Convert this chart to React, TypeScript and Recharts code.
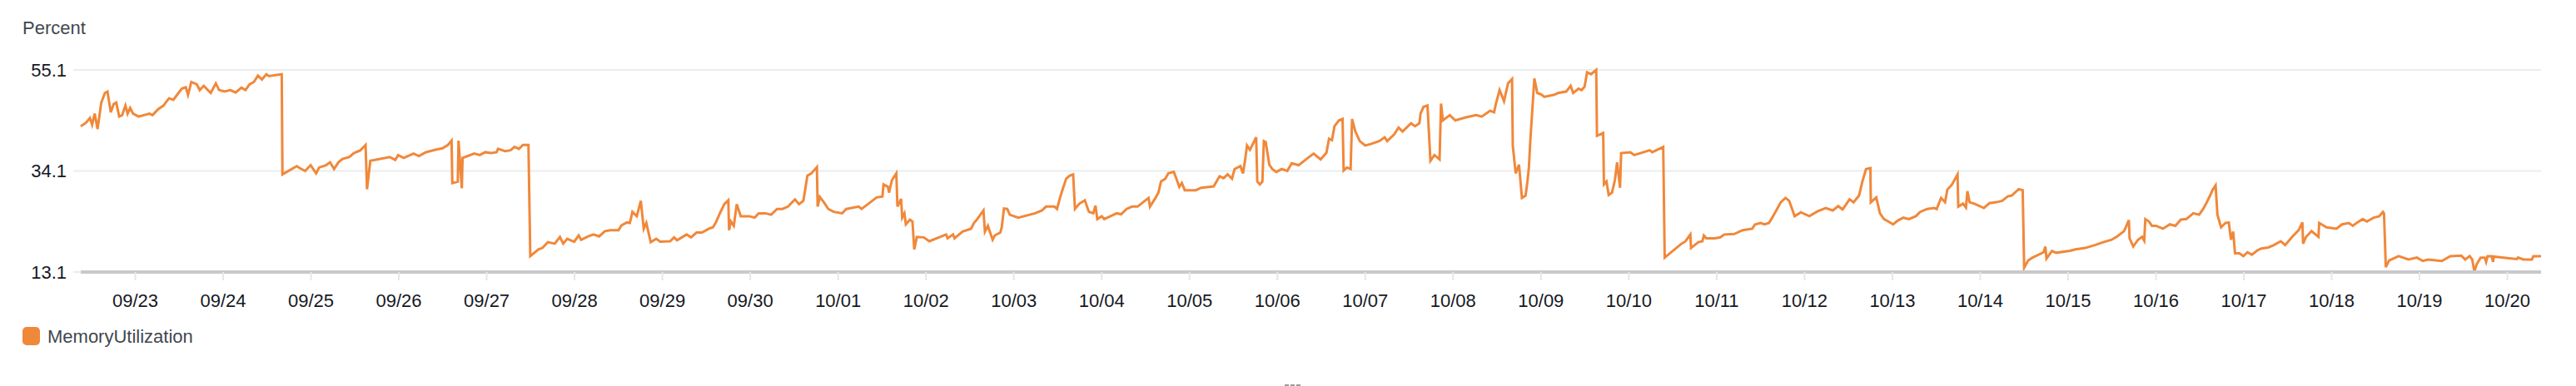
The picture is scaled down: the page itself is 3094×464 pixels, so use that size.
import { LineChart, Line, XAxis, YAxis, CartesianGrid } from 'recharts';

// hours since 09/22 00:00, MemoryUtilization in percent
const sep22to27: [number, number][] = [
  [9.1, 43.4], [10.5, 44.1], [11.6, 45.1], [12.2, 43.7], [12.9, 46.0], [13.7, 42.8], [14.7, 48.3], [15.7, 50.3],
  [16.4, 50.6], [17.3, 46.3], [18.1, 48.0], [18.8, 48.3], [19.6, 45.4], [20.4, 45.7], [21.3, 47.7], [21.9, 46.0],
  [22.6, 47.2], [23.4, 46.0], [24.9, 45.4], [27.9, 46.0], [28.7, 45.7], [30.2, 46.9], [31.7, 47.7], [33.2, 49.2],
  [34.4, 48.9], [35.5, 50.0], [36.7, 51.2], [37.8, 51.5], [38.4, 49.9], [39.3, 52.6], [40.8, 52.1], [41.6, 50.9],
  [42.7, 51.8], [44.6, 50.3], [46.0, 52.3], [46.9, 50.9], [48.4, 50.6], [50.0, 50.9], [51.4, 50.4], [53.0, 51.4],
  [54.1, 50.9], [55.2, 52.1], [56.4, 52.6], [57.5, 53.9], [58.6, 53.1], [59.8, 54.2], [60.5, 53.8], [64.0, 54.2],
  [64.2, 33.4], [68.1, 35.1], [68.9, 34.7], [70.4, 34.1], [71.9, 35.3], [73.4, 33.6], [74.2, 34.8], [76.1, 35.3],
  [77.2, 35.9], [78.3, 34.5], [79.5, 35.9], [80.6, 36.6], [82.5, 37.0], [83.7, 37.8], [85.5, 38.4], [86.9, 39.5],
  [87.3, 30.3], [88.2, 36.2], [93.5, 37.0], [95.0, 36.4], [95.8, 37.4], [97.3, 36.8], [100.0, 37.7], [101.5, 37.2],
  [103.4, 38.0], [106.0, 38.5], [107.9, 38.8], [109.4, 39.5], [110.4, 40.4], [110.6, 31.6], [112.1, 31.9], [112.3, 40.4],
  [113.2, 30.5], [113.4, 36.8], [116.6, 37.7], [118.1, 37.4], [119.6, 38.0], [121.2, 37.8],
];

const sep27to01: [number, number][] = [
  [122.7, 38.0], [123.1, 38.7], [125.0, 38.2], [126.5, 38.4], [127.6, 39.1], [128.8, 38.7], [129.9, 39.5], [131.4, 39.5],
  [131.9, 16.4], [134.1, 17.8], [135.2, 18.1], [136.7, 19.3], [138.6, 19.0], [140.0, 20.4], [140.9, 19.0], [142.0, 20.0],
  [143.9, 19.4], [145.1, 20.7], [145.8, 19.8], [147.7, 20.5], [149.2, 20.9], [150.7, 20.5], [152.3, 21.6], [153.8, 21.8],
  [156.0, 21.8], [156.8, 22.8], [158.3, 23.4], [159.1, 23.3], [159.8, 25.6], [161.0, 24.7], [162.1, 27.9], [162.9, 22.1],
  [163.6, 23.3], [164.8, 19.3], [166.3, 20.0], [167.4, 19.4], [170.1, 19.5], [171.2, 20.3], [172.0, 19.7], [174.6, 20.9],
  [175.8, 20.3], [177.3, 21.3], [178.8, 21.3], [180.7, 22.1], [181.8, 22.4], [182.6, 23.4], [183.7, 25.3], [184.9, 27.2],
  [186.0, 28.0], [186.2, 21.8], [186.7, 23.6], [187.5, 22.7], [188.3, 27.2], [189.4, 24.7], [191.7, 24.7], [193.2, 24.4],
  [194.3, 25.3], [196.2, 25.3], [197.7, 25.0], [199.3, 26.2], [200.8, 26.2], [202.3, 26.7], [204.2, 28.2], [205.3, 27.2],
  [206.5, 27.9], [207.6, 33.1], [208.7, 33.6], [210.2, 34.9], [210.4, 26.7], [211.0, 28.7], [212.1, 27.6], [213.3, 26.2],
  [214.8, 25.6], [217.1, 25.3], [218.2, 26.2], [221.6, 26.7], [222.4, 26.2], [224.3, 27.3], [226.5, 28.6], [228.1, 28.8],
  [228.4, 31.3], [229.6, 30.8], [229.9, 29.6], [230.7, 32.2],
];

const oct01to05: [number, number][] = [
  [231.9, 33.6], [232.2, 26.7], [233.2, 28.3], [233.5, 24.4], [234.1, 25.3], [234.5, 23.0], [235.6, 24.0], [236.3, 23.6],
  [236.8, 17.8], [237.5, 20.4], [239.4, 20.3], [240.9, 19.5], [245.5, 20.9], [245.9, 20.1], [247.4, 20.9], [247.8, 20.1],
  [250.0, 21.5], [252.3, 22.1], [253.1, 23.3], [253.8, 23.9], [255.7, 25.9], [256.1, 21.5], [256.9, 22.7], [258.2, 19.8],
  [258.8, 20.7], [260.3, 21.3], [260.7, 22.4], [261.3, 26.3], [262.2, 26.2], [262.9, 25.0], [265.2, 24.4], [269.8, 25.3],
  [271.7, 25.9], [272.8, 26.7], [275.1, 26.7], [275.8, 26.2], [276.6, 28.5], [277.3, 30.2], [278.3, 32.5], [279.2, 33.1],
  [280.2, 33.4], [280.7, 26.2], [281.9, 27.3], [283.4, 28.0], [284.5, 25.6], [285.7, 25.3], [286.3, 26.9], [286.8, 24.1],
  [288.0, 24.7], [288.7, 24.1], [292.1, 25.3], [293.3, 25.1], [294.8, 26.2], [296.3, 26.7], [297.8, 26.7], [299.3, 27.6],
  [300.8, 28.5], [301.2, 26.7], [302.7, 28.5], [303.5, 29.6], [304.2, 31.9], [305.4, 32.5], [306.2, 33.6], [307.7, 33.9],
  [308.4, 32.5], [309.2, 30.8], [309.9, 31.6], [310.7, 30.1], [313.7, 30.1], [315.2, 30.6], [318.6, 30.9], [320.2, 33.0],
  [321.3, 32.6], [322.4, 33.4], [323.6, 32.5], [324.3, 34.5], [325.9, 35.1], [326.6, 33.6], [327.2, 36.5], [327.7, 39.4],
  [328.5, 38.5], [330.2, 41.1], [330.5, 31.9], [331.2, 31.3], [331.9, 31.9], [332.3, 40.3], [332.8, 40.1], [333.8, 35.4],
  [334.6, 34.5], [335.7, 33.9], [337.2, 34.5], [338.7, 34.1], [339.9, 35.7], [341.8, 35.3], [343.8, 36.5],
];

const oct05to10: [number, number][] = [
  [345.9, 37.7], [347.8, 36.5], [349.4, 37.9], [350.1, 40.8], [350.9, 40.5], [351.6, 43.4], [352.8, 44.6], [353.8, 44.9],
  [354.1, 34.2], [355.0, 34.8], [356.0, 34.5], [356.4, 44.9], [357.3, 42.3], [358.5, 40.3], [360.0, 39.4], [361.5, 39.7],
  [363.8, 40.3], [365.3, 41.1], [366.0, 40.3], [367.9, 41.7], [369.1, 43.1], [370.2, 42.3], [372.5, 44.0], [373.6, 43.4],
  [374.8, 44.0], [375.1, 46.0], [375.9, 47.4], [377.0, 47.7], [377.8, 36.2], [378.9, 37.4], [380.3, 36.5], [380.7, 48.1],
  [381.2, 44.6], [383.1, 45.7], [384.6, 44.6], [387.3, 45.2], [390.3, 45.7], [391.8, 45.4], [394.1, 46.6], [395.2, 46.3],
  [395.7, 48.1], [396.7, 50.9], [397.9, 48.6], [399.0, 52.3], [400.1, 53.2], [400.3, 39.4], [401.1, 33.6], [402.0, 35.4],
  [402.8, 28.5], [403.8, 29.0], [404.3, 31.9], [404.7, 34.8], [405.1, 40.5], [406.2, 53.3], [407.0, 50.3], [408.1, 50.0],
  [408.9, 49.5], [411.5, 49.9], [412.7, 50.3], [414.9, 50.6], [416.1, 51.8], [416.8, 50.3], [418.3, 51.2], [419.1, 50.9],
  [419.9, 51.6], [420.6, 54.6], [421.7, 54.2], [423.1, 55.1], [423.3, 41.4], [425.0, 42.0], [425.2, 31.3], [425.9, 31.9],
  [426.5, 29.1], [427.4, 29.6], [428.2, 32.2], [428.8, 35.9], [429.6, 30.6], [429.9, 37.8], [432.4, 38.0], [433.5, 37.4],
  [437.7, 38.4], [438.4, 38.0], [441.4, 39.1], [441.8, 16.1], [446.4, 19.0], [447.5, 19.5], [448.8, 20.9], [449.0, 18.1],
  [451.0, 19.3], [452.1, 19.5], [452.5, 20.7], [453.2, 20.1], [455.5, 20.1],
];

const oct10to15: [number, number][] = [
  [457.0, 20.3], [458.1, 20.9], [460.8, 21.0], [463.1, 21.8], [465.7, 22.1], [466.5, 23.0], [468.0, 23.3], [469.1, 23.0],
  [470.3, 23.3], [471.4, 24.7], [472.5, 26.2], [473.5, 27.6], [474.8, 28.5], [475.8, 27.9], [477.3, 24.7], [479.0, 25.5],
  [481.3, 24.7], [483.5, 25.7], [485.8, 26.4], [487.7, 25.9], [489.2, 26.8], [490.4, 26.1], [492.3, 28.2], [493.4, 27.6],
  [494.9, 29.0], [495.8, 31.9], [496.8, 34.5], [498.0, 34.7], [498.1, 27.6], [499.6, 28.6], [500.6, 25.3], [501.7, 24.1],
  [502.9, 23.6], [504.2, 23.0], [505.5, 23.8], [507.0, 24.4], [508.5, 24.1], [510.4, 24.7], [511.6, 25.6], [513.5, 26.2],
  [515.4, 26.4], [516.1, 26.2], [517.3, 28.5], [518.4, 27.6], [519.0, 30.2], [520.3, 31.3], [521.8, 33.4], [522.0, 26.7],
  [523.3, 27.3], [524.1, 26.5], [524.5, 29.9], [525.1, 27.6], [526.4, 27.3], [529.0, 26.4], [530.5, 27.4], [532.4, 27.6],
  [534.0, 27.9], [535.5, 28.8], [536.6, 29.0], [538.5, 30.3], [539.6, 30.1], [540.0, 14.0], [541.1, 15.5], [542.3, 16.1],
  [545.3, 17.2], [545.8, 18.4], [546.1, 15.9], [547.6, 17.5], [548.7, 17.1], [552.5, 17.5], [554.0, 17.8], [556.7, 18.1],
  [559.3, 18.7], [561.6, 19.3], [563.9, 19.8], [565.4, 20.5],
];

const oct15to20: [number, number][] = [
  [567.3, 21.6], [568.6, 23.9], [568.8, 20.1], [569.8, 18.4], [571.1, 19.8], [572.2, 20.4], [572.8, 19.6], [573.1, 24.1],
  [574.1, 23.6], [574.9, 22.7], [576.0, 22.7], [577.9, 22.1], [579.8, 23.0], [581.3, 22.7], [582.8, 24.0], [584.3, 24.1],
  [586.2, 25.3], [587.8, 25.0], [588.9, 26.2], [589.7, 27.3], [590.8, 29.0], [591.5, 30.2], [592.3, 31.1], [592.8, 25.0],
  [593.8, 22.4], [595.0, 23.3], [595.9, 23.4], [596.5, 19.8], [597.1, 21.5], [597.6, 17.0], [598.8, 17.0], [599.9, 16.4],
  [601.0, 17.2], [602.2, 16.7], [603.7, 17.6], [604.8, 18.0], [606.7, 18.2], [608.2, 18.7], [610.1, 19.5], [611.3, 18.7],
  [613.2, 20.4], [615.0, 21.8], [616.0, 23.4], [616.2, 19.0], [617.0, 20.4], [618.5, 21.6], [620.4, 20.4], [620.6, 23.3],
  [622.6, 22.4], [625.3, 22.1], [626.8, 23.0], [628.7, 23.3], [629.8, 22.7], [631.0, 23.4], [632.5, 24.1], [633.6, 23.6],
  [635.5, 24.4], [637.0, 24.7], [638.0, 25.6], [638.3, 25.3], [638.8, 14.1], [639.7, 15.5], [642.3, 16.4], [645.0, 15.7],
  [647.3, 16.1], [648.9, 15.4], [650.3, 15.7], [654.1, 15.4], [656.4, 16.4], [659.4, 16.5], [660.5, 15.7], [661.7, 16.4],
  [662.4, 15.7], [663.0, 13.2], [663.6, 14.7], [664.7, 16.1], [665.8, 16.1], [666.2, 15.2], [666.6, 16.4], [667.7, 16.4],
  [668.1, 15.2], [668.3, 16.3], [674.6, 15.8], [674.9, 16.1], [676.4, 15.7], [678.7, 15.7], [679.1, 16.4], [681.2, 16.4],
];

const dateLabels = [
  '09/23', '09/24', '09/25', '09/26', '09/27', '09/28', '09/29', '09/30',
  '10/01', '10/02', '10/03', '10/04', '10/05', '10/06', '10/07', '10/08', '10/09', '10/10',
  '10/11', '10/12', '10/13', '10/14', '10/15', '10/16', '10/17', '10/18', '10/19', '10/20',
];
const dayTicks = dateLabels.map((_, i) => (i + 1) * 24);
const yTicks = [13.1, 34.1, 55.1];

const data = [...sep22to27, ...sep27to01, ...oct01to05, ...oct05to10, ...oct10to15, ...oct15to20]
  .map(([h, v]) => ({ h, v }));

const FONT = '"Liberation Sans", Arial, Helvetica, sans-serif';
const ORANGE = '#f0883a';

export default function App() {
  return (
    <div style={{ position: 'absolute', left: 0, top: 0, width: 3094, height: 464, background: '#fff', fontFamily: FONT }}>
      <div style={{ position: 'absolute', left: 27, top: 23, fontSize: 22, lineHeight: '22px', color: '#414750' }}>
        Percent
      </div>
      <div style={{ position: 'absolute', left: 0, top: 0 }}>
        <LineChart width={3094} height={385} data={data} margin={{ top: 84, right: 42, left: 0, bottom: 18 }}>
          <CartesianGrid vertical={false} stroke="#eaeded" strokeWidth={2} />
          <XAxis
            type="number"
            dataKey="h"
            domain={[9.1, 681.2]}
            ticks={dayTicks}
            interval={0}
            tickFormatter={(v: number) => dateLabels[Math.round(v / 24) - 1]}
            height={40}
            tickSize={10}
            tickMargin={16}
            axisLine={{ stroke: '#c9c9cc', strokeWidth: 4 }}
            tickLine={{ stroke: '#e5e7e9', strokeWidth: 2 }}
            tick={{ fontSize: 22, fill: '#16191f', fontFamily: FONT }}
          />
          <YAxis
            width={97}
            domain={[13.1, 55.1]}
            ticks={yTicks}
            tickFormatter={(v: number) => v.toFixed(1)}
            tickSize={9}
            tickMargin={8}
            axisLine={false}
            tickLine={{ stroke: '#eaeded', strokeWidth: 2 }}
            tick={{ fontSize: 22, fill: '#16191f', fontFamily: FONT }}
          />
          <Line
            type="linear"
            dataKey="v"
            stroke={ORANGE}
            strokeWidth={3}
            dot={false}
            activeDot={false}
            isAnimationActive={false}
          />
        </LineChart>
      </div>
      <div style={{ position: 'absolute', left: 27, top: 393, width: 21, height: 22, borderRadius: 5, background: ORANGE }} />
      <div style={{ position: 'absolute', left: 57, top: 394, fontSize: 22, lineHeight: '22px', color: '#414750' }}>
        MemoryUtilization
      </div>
      {[1543, 1550, 1557].map(x => (
        <div key={x} style={{ position: 'absolute', left: x, top: 462, width: 5, height: 2, background: '#9a9a9a' }} />
      ))}
    </div>
  );
}
